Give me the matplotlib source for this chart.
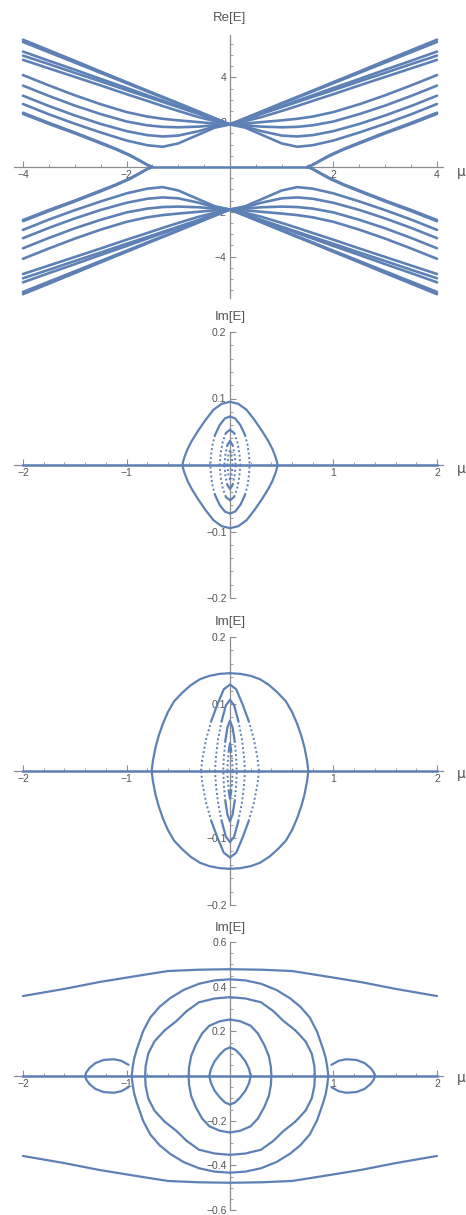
"""
Re[E] and Im[E] spectra vs mu, four stacked panels (Mathematica style axes)
"""
import matplotlib
matplotlib.use("Agg")
import matplotlib.pyplot as plt
import numpy as np
from matplotlib.ticker import MultipleLocator

BLUE = "#5E81B5"
AXC = "#8c8c8c"
TXT = "#555555"
FONT = "Liberation Sans"

# ── Panel 1: Re[E], upper-left branch (mu <= 0), mirrored in mu and E ─────────
re_mu = [-4, -3.5, -3, -2.5, -2, -1.6, -1.3, -1.0, -0.6, -0.3, 0]
re_curves = [
    [5.68, 5.21, 4.74, 4.26, 3.79, 3.41, 3.13, 2.85, 2.47, 2.18, 1.9],
    [5.58, 5.12, 4.66, 4.20, 3.74, 3.37, 3.10, 2.82, 2.45, 2.18, 1.9],
    [5.15, 4.74, 4.34, 3.93, 3.53, 3.20, 2.96, 2.71, 2.39, 2.12, 1.9],
    [4.97, 4.59, 4.20, 3.82, 3.43, 3.13, 2.90, 2.67, 2.36, 2.10, 1.9],
    [4.78, 4.40, 4.02, 3.64, 3.25, 2.95, 2.72, 2.50, 2.22, 2.05, 1.9],
    [4.10, 3.64, 3.20, 2.80, 2.45, 2.25, 2.15, 2.08, 2.00, 1.94, 1.9],
    [3.63, 3.17, 2.74, 2.36, 2.03, 1.86, 1.79, 1.77, 1.80, 1.86, 1.9],
    [3.18, 2.72, 2.30, 1.92, 1.60, 1.42, 1.36, 1.40, 1.60, 1.80, 1.9],
    [2.81, 2.35, 1.93, 1.54, 1.18, 0.97, 0.90, 1.05, 1.45, 1.75, 1.9],
]
re_gap_mu = [-4, -3.5, -3, -2.5, -2.2, -1.93, -1.75, -1.6, -1.5]
re_gap_curves = [
    [2.37, 1.92, 1.50, 1.05, 0.78, 0.50, 0.28, 0.09, 0.0],
    [2.42, 1.97, 1.54, 1.09, 0.81, 0.53, 0.30, 0.10, 0.0],
]
re_zero_mu = [-1.5, 1.5]

# ── Panel 2: Im[E] loops, upper-right quarter (mu >= 0, Im >= 0) ─────────────
p2_mu = [
    [0, 0.08, 0.16, 0.24, 0.31, 0.37, 0.41, 0.44, 0.455, 0.458],
    [0, 0.05, 0.10, 0.145, 0.17, 0.183, 0.19],
    [0, 0.04, 0.07, 0.09, 0.10],
    [0, 0.025, 0.045, 0.055],
    [0, 0.015, 0.025],
]
p2_im = [
    [0.095, 0.092, 0.083, 0.067, 0.051, 0.036, 0.024, 0.012, 0.004, 0.0],
    [0.073, 0.07, 0.06, 0.045, 0.03, 0.015, 0.0],
    [0.053, 0.048, 0.035, 0.018, 0.0],
    [0.036, 0.03, 0.015, 0.0],
    [0.022, 0.015, 0.0],
]
p2_solid = [9, 3, 1, 1, 0]

# ── Panel 3 ──────────────────────────────────────────────────────────────────
p3_mu = [
    [0, 0.1, 0.2, 0.29, 0.38, 0.46, 0.54, 0.6, 0.65, 0.69, 0.72, 0.745, 0.757],
    [0, 0.06, 0.12, 0.18, 0.23, 0.265, 0.28],
    [0, 0.04, 0.08, 0.115, 0.135, 0.145],
    [0, 0.025, 0.045, 0.06, 0.065],
    [0, 0.012, 0.022, 0.026],
]
p3_im = [
    [0.146, 0.145, 0.142, 0.137, 0.128, 0.117, 0.104, 0.088, 0.07, 0.052, 0.035, 0.015, 0.0],
    [0.129, 0.122, 0.10, 0.075, 0.048, 0.02, 0.0],
    [0.106, 0.098, 0.075, 0.048, 0.022, 0.0],
    [0.075, 0.065, 0.045, 0.02, 0.0],
    [0.041, 0.03, 0.012, 0.0],
]
p3_solid = [12, 3, 2, 2, 1]

# ── Panel 4 ──────────────────────────────────────────────────────────────────
p4_band_mu = [0, 0.3, 0.6, 0.9, 1.26, 1.6, 2.0]
p4_band_im = [0.478, 0.476, 0.47, 0.448, 0.421, 0.39, 0.358]
p4_mu = [
    [0, 0.15, 0.3, 0.45, 0.58, 0.68, 0.77, 0.84, 0.87, 0.9, 0.925, 0.94, 0.95],
    [0, 0.15, 0.30, 0.42, 0.52, 0.63, 0.73, 0.79, 0.815, 0.82],
    [0, 0.10, 0.20, 0.27, 0.33, 0.375, 0.395, 0.40],
    [0, 0.05, 0.10, 0.15, 0.185, 0.20],
    [0.98, 1.05, 1.12, 1.22, 1.30, 1.36, 1.39, 1.40],
]
p4_im = [
    [0.433, 0.428, 0.413, 0.385, 0.348, 0.31, 0.262, 0.2, 0.16, 0.12, 0.08, 0.04, 0.0],
    [0.353, 0.347, 0.33, 0.29, 0.245, 0.205, 0.155, 0.10, 0.045, 0.0],
    [0.253, 0.245, 0.225, 0.19, 0.14, 0.09, 0.04, 0.0],
    [0.128, 0.118, 0.095, 0.065, 0.03, 0.0],
    [0.05, 0.068, 0.075, 0.072, 0.058, 0.035, 0.015, 0.0],
]
im_zero_mu = [-2, 2]

W, H = 466, 1215
fig = plt.figure(figsize=(W / 100, H / 100), dpi=100)


def panel(top, bottom, xlim, ylim, xmaj, xlabels, xmin, ymaj, ylabels, ymin):
    ax = fig.add_axes([14 / W, 1 - bottom / H, (443 - 14) / W, (bottom - top) / H])
    ax.set_xlim(*xlim)
    ax.set_ylim(*ylim)
    for s in ("top", "right"):
        ax.spines[s].set_visible(False)
    for s in ("left", "bottom"):
        ax.spines[s].set_position(("data", 0))
        ax.spines[s].set_color(AXC)
        ax.spines[s].set_linewidth(0.9)
        ax.spines[s].set_zorder(0.6)
    ax.set_xticks(xmaj)
    ax.set_xticklabels(xlabels)
    ax.set_yticks(ymaj)
    ax.set_yticklabels(ylabels)
    ax.xaxis.set_minor_locator(MultipleLocator(xmin))
    ax.yaxis.set_minor_locator(MultipleLocator(ymin))
    ax.tick_params(which="major", direction="in", length=4, width=0.8,
                   color=AXC, labelcolor=TXT, labelsize=7.5, pad=2.5)
    ax.tick_params(which="minor", direction="in", length=2.3, width=0.6, color=AXC)
    for lab in ax.get_xticklabels() + ax.get_yticklabels():
        lab.set_family(FONT)
    ax.set_axisbelow(True)
    ax.patch.set_alpha(0)
    return ax


def quad(ax, mu, val, **kw):
    mu = np.asarray(mu)
    val = np.asarray(val)
    for sx in (1, -1):
        for sy in (1, -1):
            ax.plot(sx * mu, sy * val, color=BLUE, solid_capstyle="round",
                    solid_joinstyle="round", **kw)


def loops(ax, mus, ims, solid):
    for mu, im, k in zip(mus, ims, solid):
        if k > 0:
            quad(ax, mu[:k + 1], im[:k + 1], lw=1.6)
        if k < len(mu) - 1:
            quad(ax, mu[k:], im[k:], lw=1.4, ls=(0, (1, 1.3)))


def labels(title, title_y, mu_y):
    fig.text(230 / W, 1 - title_y / H, title, ha="center", va="center",
             fontsize=9.5, color=TXT, family=FONT)
    fig.text(457 / W, 1 - mu_y / H, "μ", ha="left", va="center",
             fontsize=10, color=TXT, family="DejaVu Sans")


# ── 1. Re[E] ─────────────────────────────────────────────────────────────────
ax1 = panel(35, 298, (-4.174, 4.116), (-5.85, 5.89),
            [-4, -2, 2, 4], ["−4", "−2", "2", "4"], 0.5,
            [-4, -2, 2, 4], ["−4", "−2", "2", "4"], 0.5)
for c in re_curves:
    quad(ax1, re_mu, c, lw=1.9)
for c in re_gap_curves:
    quad(ax1, re_gap_mu, c, lw=1.9)
ax1.plot(re_zero_mu, [0, 0], color=BLUE, lw=1.8)
labels("Re[E]", 18, 172)

# ── 2–4. Im[E] ───────────────────────────────────────────────────────────────
xl = (-2.087, 2.058)
xt = [-2, -1, 1, 2]
xtl = ["−2", "−1", "1", "2"]

ax2 = panel(332, 598, xl, (-0.2, 0.2), xt, xtl, 0.2,
            [-0.2, -0.1, 0.1, 0.2], ["−0.2", "−0.1", "0.1", "0.2"], 0.02)
ax2.plot(im_zero_mu, [0, 0], color=BLUE, lw=1.8)
loops(ax2, p2_mu, p2_im, p2_solid)
labels("Im[E]", 317, 469)

ax3 = panel(637, 905, xl, (-0.2, 0.2), xt, xtl, 0.2,
            [-0.2, -0.1, 0.1, 0.2], ["−0.2", "−0.1", "0.1", "0.2"], 0.02)
ax3.plot(im_zero_mu, [0, 0], color=BLUE, lw=1.8)
loops(ax3, p3_mu, p3_im, p3_solid)
labels("Im[E]", 622, 774)

ax4 = panel(942, 1210, xl, (-0.6, 0.6), xt, xtl, 0.2,
            [-0.6, -0.4, -0.2, 0.2, 0.4, 0.6],
            ["−0.6", "−0.4", "−0.2", "0.2", "0.4", "0.6"], 0.05)
ax4.plot(im_zero_mu, [0, 0], color=BLUE, lw=1.8)
quad(ax4, p4_band_mu, p4_band_im, lw=1.6)
loops(ax4, p4_mu, p4_im, [len(m) for m in p4_mu])
labels("Im[E]", 928, 1078)

fig.savefig("out.png", dpi=100)
